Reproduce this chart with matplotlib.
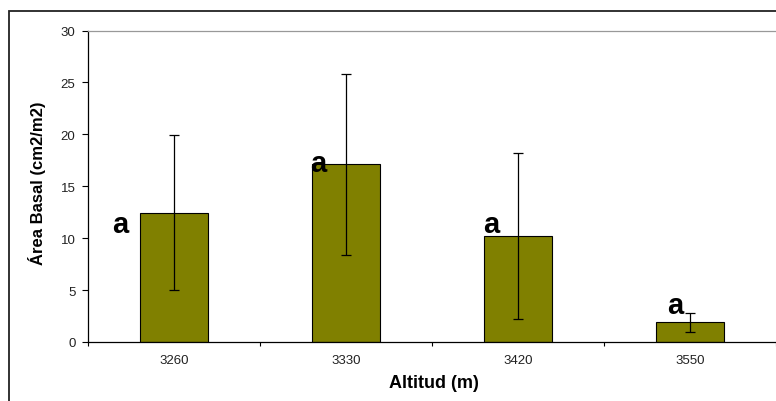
import matplotlib.pyplot as plt
from matplotlib.patches import Rectangle
import numpy as np

plt.rcParams["font.family"] = ["Liberation Sans", "DejaVu Sans"]

altitudes = ["3260", "3330", "3420", "3550"]
basal_area = [12.45, 17.1, 10.25, 1.9]
basal_sd = [7.45, 8.75, 8.0, 0.9]
groups = ["a", "a", "a", "a"]

fig = plt.figure(figsize=(7.76, 4.02), dpi=100)
fig.patches.append(Rectangle((9 / 776, -0.1), 1.2, 1.1 - 12 / 402,
                             transform=fig.transFigure, fill=False,
                             edgecolor="#222222", linewidth=1.3))
ax = fig.add_axes([88 / 776, 1 - 343 / 402, 1 - 88 / 776, (343 - 31.5) / 402])

x = np.arange(len(altitudes))
ax.bar(x, basal_area, width=0.4, color="#808000", edgecolor="black", linewidth=0.8, zorder=2)
ax.errorbar(x, basal_area, yerr=basal_sd, fmt="none", ecolor="black",
            elinewidth=0.9, capsize=3.5, capthick=0.9, zorder=3)

# letter placement relative to each bar top (x offset, baseline offset)
letter_offsets = [(-0.31, -1.87), (-0.16, -0.66), (-0.157, 0.33), (-0.087, 0.89)]
for xi, h, g, (dx, dy) in zip(x, basal_area, groups, letter_offsets):
    ax.text(xi + dx, h + dy, g, ha="center", va="baseline",
            fontsize=21, fontweight="bold", zorder=4)

ax.set_xlim(-0.5, 3.5)
ax.set_ylim(0, 30)
ax.set_yticks(range(0, 31, 5))
ax.set_xticks(x)
ax.set_xticklabels(altitudes)
ax.set_xticks(np.arange(-0.5, 3.6, 1), minor=True)
ax.tick_params(axis="x", which="major", length=0, labelsize=9.5, pad=9, labelcolor="#222222")
ax.tick_params(axis="x", which="minor", length=3, width=0.8)
ax.tick_params(axis="y", length=4, width=0.8, labelsize=9.5, pad=5, labelcolor="#222222")

for side in ["left", "bottom"]:
    ax.spines[side].set_color("black")
    ax.spines[side].set_linewidth(0.9)
ax.spines["top"].set_color("#999999")
ax.spines["top"].set_linewidth(0.9)
ax.spines["right"].set_visible(False)

ax.set_xlabel("Altitud (m)", fontsize=13, fontweight="bold")
ax.xaxis.set_label_coords((434 - 88) / (776 - 88), -(384 - 343) / (343 - 31.5))
ax.xaxis.label.set_va("center")
ax.set_ylabel("Área Basal (cm2/m2)", fontsize=12, fontweight="bold")
ax.yaxis.set_label_coords(-(88 - 37) / (776 - 88), (343 - 183) / (343 - 31.5))
ax.yaxis.label.set_va("center")

fig.savefig("out.png", dpi=100)
